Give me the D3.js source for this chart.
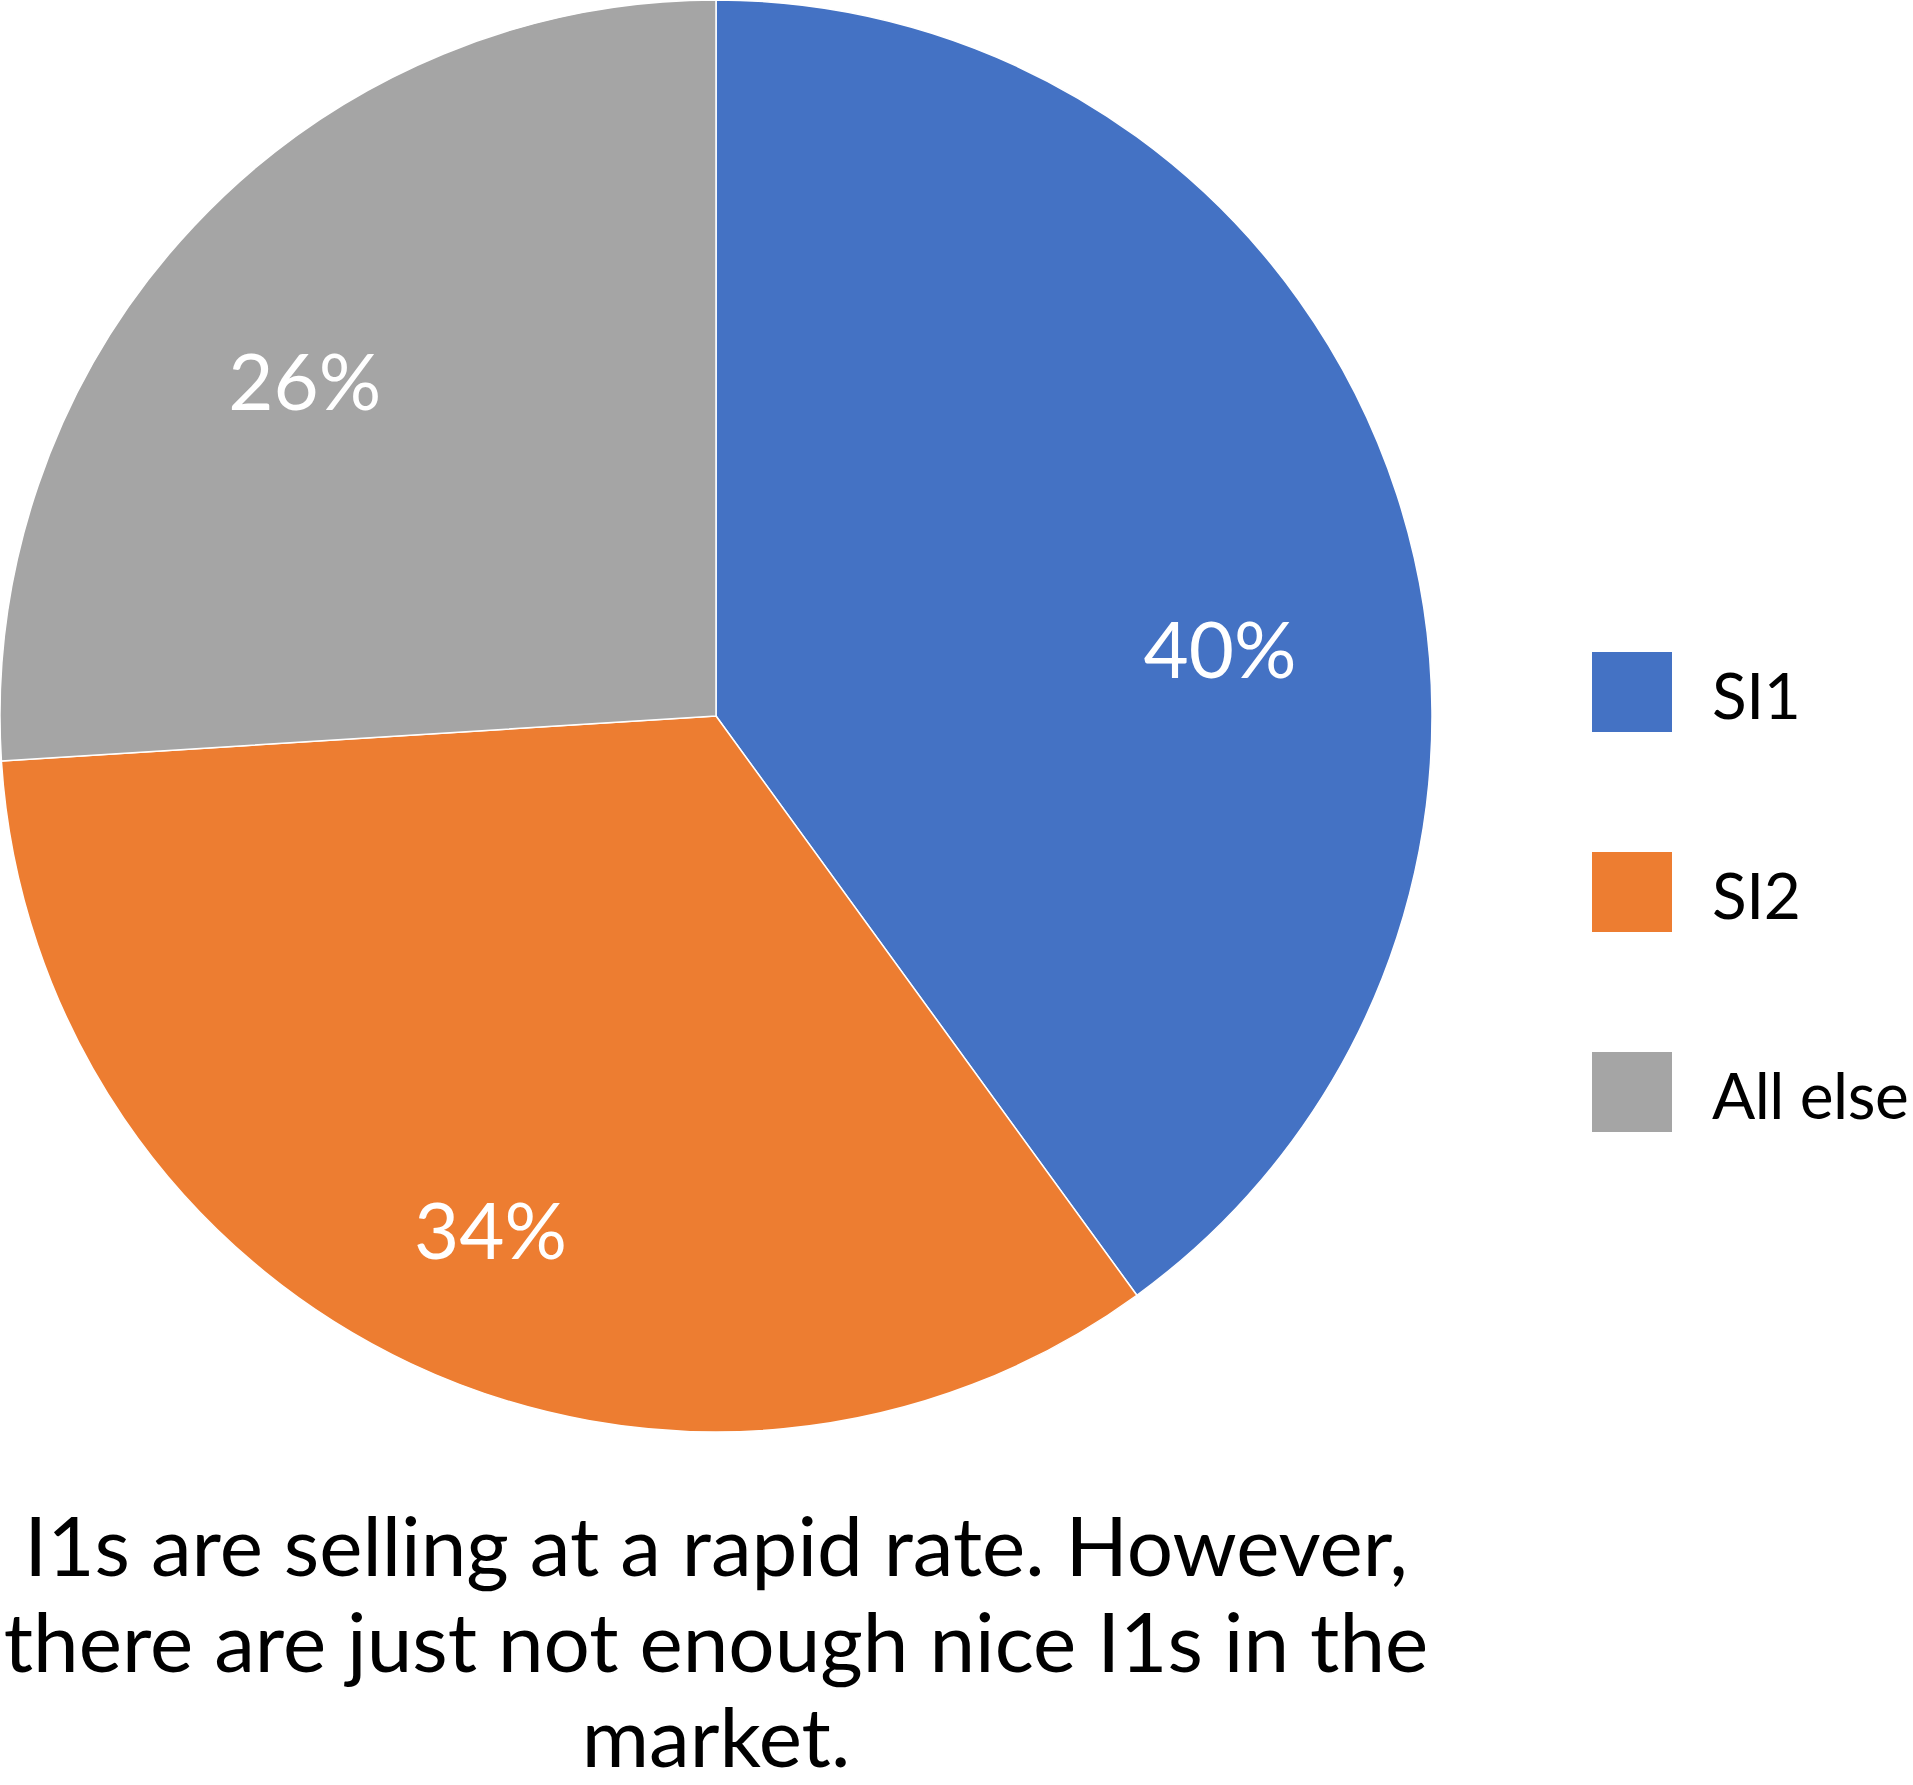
<!DOCTYPE html>
<html>
<head>
<meta charset="utf-8">
<script src="https://cdn.jsdelivr.net/npm/d3@7"></script>
<style>
  html, body { margin: 0; padding: 0; background: #fff; }
  svg { display: block; }
  text { font-family: Lato, "Open Sans", sans-serif; }
</style>
</head>
<body>
<svg id="chart" width="1913" height="1785"></svg>
<script>
// ---- data ----
const categories = ["SI1", "SI2", "All else"];
const values = [40, 34, 26];
const colors = ["#4472C4", "#ED7D31", "#A5A5A5"];
const captionLines = [
  "I1s are selling at a rapid rate. However,",
  "there are just not enough nice I1s in the",
  "market."
];

// ---- layout ----
const W = 1913, H = 1785;
const cx = 716, cy = 716, R = 716;
const labelRadius = R * 0.74;
const labelNudge = [[0, 98], [0, 36], [-25, 29]]; // Excel-style label placement offsets
const labelFont = 78;

const svg = d3.select("#chart");
const data = categories.map((c, i) => ({ name: c, value: values[i], color: colors[i] }));

const pie = d3.pie().sort(null).value(d => d.value);
const arcs = pie(data);
const arc = d3.arc().innerRadius(0).outerRadius(R);
const labelArc = d3.arc().innerRadius(labelRadius).outerRadius(labelRadius);

const g = svg.append("g").attr("transform", `translate(${cx},${cy})`);
g.selectAll("path.slice").data(arcs).join("path")
  .attr("class", "slice")
  .attr("d", arc)
  .attr("fill", d => d.data.color)
  .attr("stroke", "#fff")
  .attr("stroke-width", 1.5)
  .attr("stroke-linejoin", "round");

const total = d3.sum(values);
g.selectAll("text.lbl").data(arcs).join("text")
  .attr("class", "lbl")
  .attr("x", (d, i) => labelArc.centroid(d)[0] + labelNudge[i][0])
  .attr("y", (d, i) => labelArc.centroid(d)[1] + labelNudge[i][1] + labelFont * 0.36)
  .attr("text-anchor", "middle")
  .attr("fill", "#fff")
  .attr("font-size", labelFont)
  .attr("font-weight", 400)
  .text(d => d3.format(".0%")(d.data.value / total));

// ---- legend ----
const legend = svg.append("g").attr("transform", "translate(1592,652)");
const lg = legend.selectAll("g").data(data).join("g")
  .attr("transform", (d, i) => `translate(0,${i * 200})`);
lg.append("rect").attr("width", 80).attr("height", 80).attr("fill", d => d.color);
lg.append("text")
  .attr("x", 120).attr("y", 67)
  .attr("font-size", 64)
  .attr("letter-spacing", -0.5)
  .attr("fill", "#000")
  .text(d => d.name);

// ---- caption ----
svg.append("g").selectAll("text").data(captionLines).join("text")
  .attr("x", cx)
  .attr("y", (d, i) => 1576 + i * 95.5)
  .attr("text-anchor", "middle")
  .attr("font-size", 81.8)
  .attr("fill", "#000")
  .text(d => d);
</script>
</body>
</html>
